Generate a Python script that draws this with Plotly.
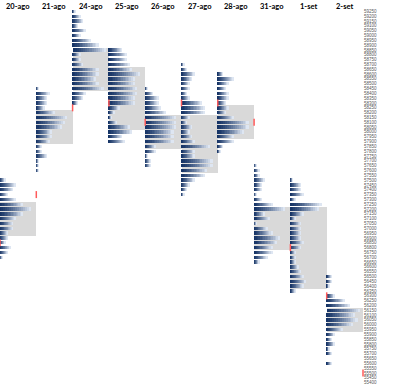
import plotly.graph_objects as go

# ---- data ----
days = ["20-ago", "21-ago", "24-ago", "25-ago", "26-ago", "27-ago", "28-ago", "31-ago", "1-set", "2-set"]

tick_prices = [59250, 59200, 59150, 59100, 59050, 59000, 58950, 58900, 58850, 58800,
               58750, 58700, 58650, 58600, 58550, 58500, 58450, 58400, 58350, 58300,
               58250, 58200, 58150, 58100, 58050, 58000, 57950, 57900, 57850, 57800,
               57750, 57700, 57650, 57600, 57550, 57500, 57450, 57400, 57350, 57300,
               57250, 57200, 57150, 57100, 57050, 57000, 56950, 56900, 56850, 56800,
               56750, 56700, 56650, 56600, 56550, 56500, 56450, 56400, 56350, 56300,
               56250, 56200, 56150, 56100, 56050, 56000, 55950, 55900, 55850, 55800,
               55750, 55700, 55650, 55600, 55550, 55500, 55450, 55400]
tick_size = 50

# profile high of each day (price of first row of its TPO list)
day_high = [57500, 58450, 59250, 58850, 58450, 58700, 58600, 57650, 57500, 56500]

# TPO counts per price row, from the day's high downwards
tpo_20ago = [2, 6, 5, 3, 6, 9, 12, 9, 6, 5, 5, 3, 3, 2, 4, 3, 1]
tpo_21ago = [1, 5, 4, 4, 3, 7, 12, 11, 10, 6, 6, 5, 2, 2, 4, 1, 1, 1]
tpo_24ago = [1, 3, 4, 2, 5, 3, 7, 10, 13, 3, 3, 4, 10, 10, 9, 10, 12, 5, 4, 2]
tpo_25ago = [5, 7, 7, 8, 9, 12, 10, 10, 11, 11, 10, 10, 4, 2, 1, 3, 8, 9, 5, 6]
tpo_26ago = [1, 3, 5, 5, 6, 8, 12, 12, 12, 11, 11, 11, 4, 4, 1, 2, 2]
tpo_27ago = [1, 2, 5, 4, 3, 3, 2, 3, 8, 9, 9, 3, 2, 4, 3, 4, 5, 11, 5, 5, 12, 12, 10, 9, 5, 3, 2, 1]
tpo_28ago = [2, 6, 4, 3, 4, 4, 3, 4, 3, 6, 12, 12, 10, 6, 6, 2, 1]
tpo_31ago = [1, 2, 2, 4, 3, 3, 1, 3, 7, 12, 4, 6, 1, 5, 7, 10, 9, 7, 7, 5, 2]
tpo_1set = [1, 4, 4, 5, 2, 12, 11, 5, 2, 4, 4, 4, 4, 5, 4, 2, 2, 2, 3, 4, 5, 6, 5, 2]
tpo_2set = [2, 2, 1, 0, 3, 7, 9, 13, 11, 12, 10, 6, 3, 2, 3, 1, 2, 0, 2]

# value area (gray box) high / low prices
va_high = [57250, 58200, 58850, 58650, 58150, 58150, 58250, 57200, 57200, 56150]
va_low = [56950, 57900, 58450, 58050, 57850, 57600, 57950, 56800, 56400, 55950]

# open (left red tick) / close (right red tick)
open_px = [56850, None, None, 58300, 58100, 58300, 58300, None, 56800, 56300]
close_px = [57350, 58250, None, None, None, None, 58100, None, None, 55500]

profiles = [tpo_20ago, tpo_21ago, tpo_24ago, tpo_25ago, tpo_26ago,
            tpo_27ago, tpo_28ago, tpo_31ago, tpo_1set, tpo_2set]

# ---- build figure ----
W = 14          # column width in TPO units
K = 16          # gradient steps
c0 = (22, 52, 102)
c1 = (222, 230, 242)

fig = go.Figure()

# value-area boxes
va_y, va_base = [], []
for i in range(len(days)):
    p = va_high[i]
    while p >= va_low[i]:
        va_y.append(p)
        va_base.append(i * W)
        p -= tick_size
fig.add_trace(go.Bar(orientation="h", y=va_y, x=[W] * len(va_y), base=va_base,
                     width=tick_size, marker=dict(color="#D9D9D9", line=dict(width=0)),
                     hoverinfo="skip"))

# gradient TPO bars
rows_y, rows_len, rows_off = [], [], []
for i, prof in enumerate(profiles):
    for j, n in enumerate(prof):
        if n > 0:
            rows_y.append(day_high[i] - j * tick_size)
            rows_len.append(n)
            rows_off.append(i * W)

for k in range(K):
    t = (k / (K - 1)) ** 1.3
    col = "rgb(%d,%d,%d)" % tuple(round(c0[m] + (c1[m] - c0[m]) * t) for m in range(3))
    fig.add_trace(go.Bar(orientation="h", y=rows_y,
                         x=[L / K for L in rows_len],
                         base=[o + L * k / K for o, L in zip(rows_off, rows_len)],
                         width=tick_size * 0.7,
                         marker=dict(color=col, line=dict(width=0)),
                         hoverinfo="skip"))

# open / close marks
mx, my = [], []
for i in range(len(days)):
    if open_px[i] is not None:
        mx.append(i * W); my.append(open_px[i])
    if close_px[i] is not None:
        mx.append((i + 1) * W); my.append(close_px[i])
fig.add_trace(go.Scatter(x=mx, y=my, mode="markers",
                         marker=dict(symbol="line-ns", size=5,
                                     line=dict(color="#FF5A5A", width=1.5)),
                         hoverinfo="skip", cliponaxis=False))

# day labels
for i, d in enumerate(days):
    fig.add_annotation(x=i * W + W / 2, y=1, xref="x", yref="paper",
                       text="<b>%s</b>" % d, showarrow=False,
                       yanchor="middle", yshift=3,
                       font=dict(family="Lato", size=7.5, color="#000000"))

fig.update_layout(
    template="none",
    width=400, height=388,
    margin=dict(l=0, r=37, t=9, b=3, autoexpand=False),
    paper_bgcolor="white", plot_bgcolor="white",
    barmode="overlay", bargap=0, showlegend=False,
    xaxis=dict(range=[0, len(days) * W], visible=False, fixedrange=True, automargin=False),
    yaxis=dict(range=[tick_prices[-1] - tick_size / 2, tick_prices[0] + tick_size / 2],
               side="right", tickmode="array", tickvals=tick_prices,
               ticktext=[str(p) for p in tick_prices], ticks="", automargin=False,
               tickfont=dict(family="Liberation Sans", size=4.5, color="#595959"),
               showgrid=False, zeroline=False, showline=False, fixedrange=True),
)

fig.write_html("out.html", config={"displayModeBar": False},
               post_script="document.body.style.margin='0';document.body.style.overflow='hidden';")
